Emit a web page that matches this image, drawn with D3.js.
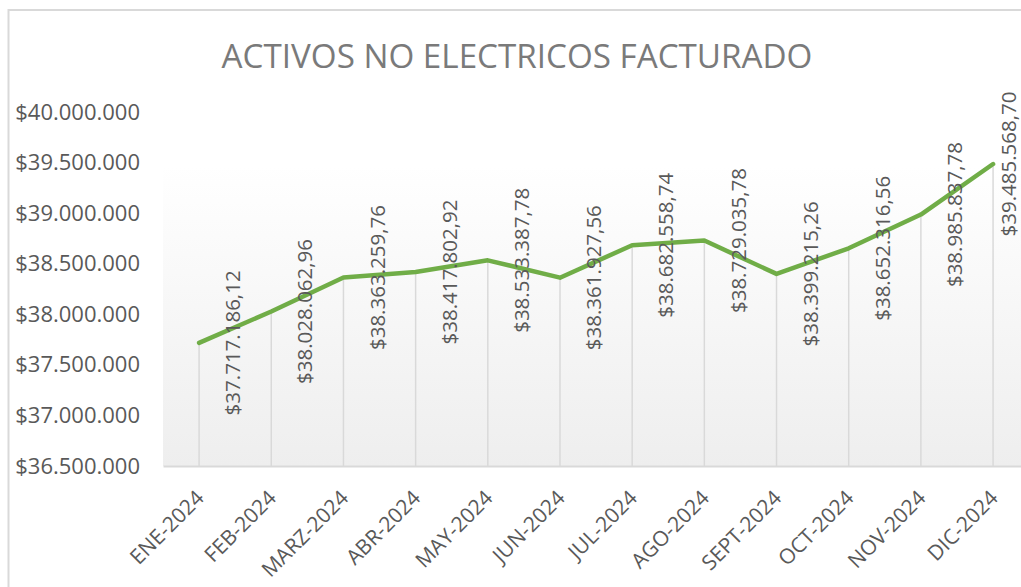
<!DOCTYPE html>
<html>
<head>
<meta charset="utf-8">
<script src="https://cdn.jsdelivr.net/npm/d3@7"></script>
<style>
  html, body { margin: 0; padding: 0; background: #fff; }
  svg { display: block; font-family: "Open Sans", sans-serif; }
</style>
</head>
<body>
<svg id="chart" width="1021" height="587"></svg>
<script>
const title = "ACTIVOS NO ELECTRICOS FACTURADO";
const months = ["ENE-2024","FEB-2024","MARZ-2024","ABR-2024","MAY-2024","JUN-2024","JUL-2024","AGO-2024","SEPT-2024","OCT-2024","NOV-2024","DIC-2024"];
const values = [37717186.12, 38028062.96, 38363259.76, 38417802.92, 38533387.78, 38361927.56, 38682558.74, 38729035.78, 38399215.26, 38652316.56, 38985837.78, 39485568.70];
const yTicks = [36500000, 37000000, 37500000, 38000000, 38500000, 39000000, 39500000, 40000000];

const W = 1021, H = 587;
const svg = d3.select("#chart");
const plot = { left: 163, right: 163 + 12 * 72.18, top: 112, bottom: 466 };

const x = d3.scaleBand().domain(months).range([plot.left, plot.right]).padding(0);
const y = d3.scaleLinear().domain([36500000, 40000000]).range([plot.bottom, plot.top]);
const cx = d => x(d) + x.bandwidth() / 2;

const loc = d3.formatLocale({ decimal: ",", thousands: ".", grouping: [3], currency: ["$", ""] });
const fmtTick = loc.format("$,.0f");
const fmtVal = loc.format("$,.2f");

const defs = svg.append("defs");
const grad = defs.append("linearGradient").attr("id", "bg").attr("x1", 0).attr("y1", 0).attr("x2", 0).attr("y2", 1);
grad.append("stop").attr("offset", "0%").attr("stop-color", "#ffffff");
grad.append("stop").attr("offset", "15%").attr("stop-color", "#ffffff");
grad.append("stop").attr("offset", "100%").attr("stop-color", "#eeeeee");

// chart area border
svg.append("rect").attr("x", 8.5).attr("y", 10).attr("width", W).attr("height", H)
  .attr("fill", "#fff").attr("stroke", "#d9d9d9").attr("stroke-width", 2);

// plot area background
svg.append("rect").attr("x", plot.left).attr("y", plot.top)
  .attr("width", plot.right - plot.left).attr("height", plot.bottom - plot.top)
  .attr("fill", "url(#bg)");

// title
svg.append("text").attr("x", 517).attr("y", 68).attr("text-anchor", "middle")
  .attr("font-size", 33.2).attr("font-weight", 400).attr("fill", "#7a7a7a").text(title);

// y axis labels
const yAxis = d3.axisLeft(y).tickValues(yTicks).tickFormat(fmtTick).tickSize(0).tickPadding(0);
const yg = svg.append("g").attr("transform", "translate(140,0)").call(yAxis);
yg.select(".domain").remove();
yg.selectAll("text").attr("font-size", 22).attr("fill", "#595959").attr("font-family", "Open Sans, sans-serif");

// drop lines
svg.append("g").selectAll("line").data(months).join("line")
  .attr("x1", d => cx(d)).attr("x2", d => cx(d))
  .attr("y1", (d, i) => y(values[i])).attr("y2", plot.bottom)
  .attr("stroke", "#d9d9d9").attr("stroke-width", 1.5);

// x axis
const xAxis = d3.axisBottom(x).tickSize(0).tickPadding(0);
const xg = svg.append("g").attr("transform", `translate(0,${plot.bottom})`).call(xAxis);
xg.select(".domain").attr("stroke", "#d9d9d9").attr("stroke-width", 2);
xg.selectAll(".tick text")
  .attr("font-size", 21).attr("fill", "#595959").attr("font-family", "Open Sans, sans-serif")
  .attr("text-anchor", "end").attr("y", 0).attr("dy", "0.35em")
  .attr("transform", "translate(1,28) rotate(-45)");

// line
const line = d3.line().x((d, i) => cx(months[i])).y(d => y(d));
svg.append("path").datum(values).attr("d", line)
  .attr("fill", "none").attr("stroke", "#70ad47").attr("stroke-width", 4.5)
  .attr("stroke-linejoin", "round").attr("stroke-linecap", "round");

// data labels
svg.append("g").selectAll("text").data(values).join("text")
  .attr("transform", (d, i) => `translate(${Math.min(cx(months[i]) + 34, W - 12)},${y(d)}) rotate(-90)`)
  .attr("text-anchor", "middle").attr("dy", "0.35em")
  .attr("font-size", 20.5).attr("fill", "#595959").text(d => fmtVal(d));
</script>
</body>
</html>
